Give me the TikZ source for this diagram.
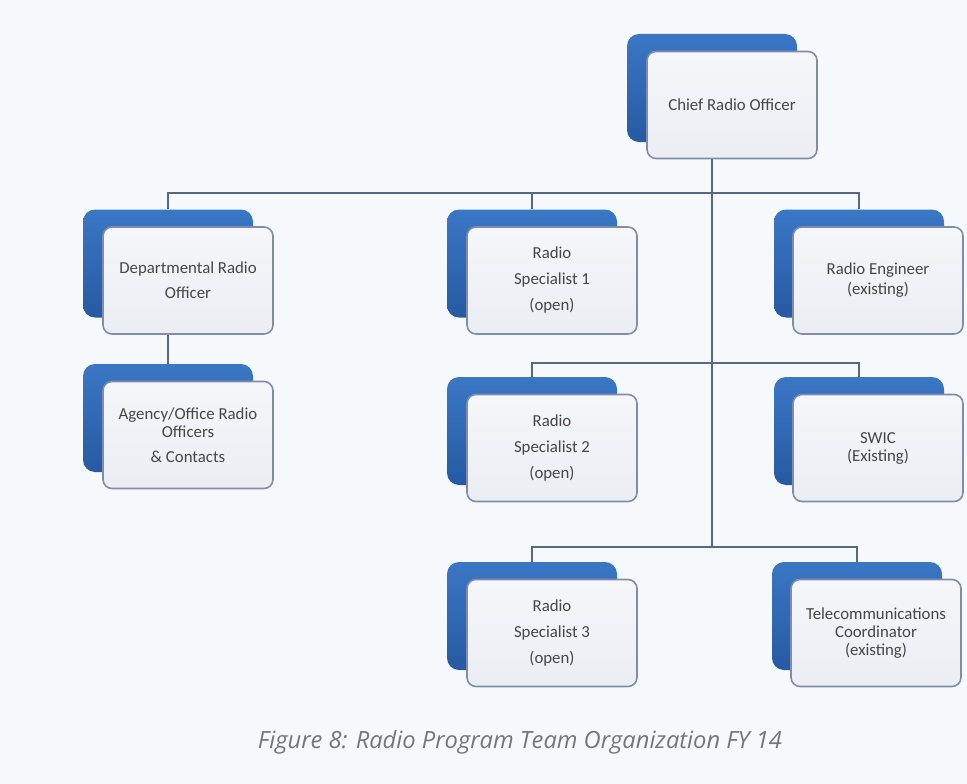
\documentclass[tikz,border=0pt]{standalone}
\usepackage{fontspec}
\setmainfont{Carlito}
\newfontfamily\capfont{Open Sans}
\usetikzlibrary{backgrounds}
\definecolor{pagebg}{RGB}{245,249,252}
\definecolor{boxblue}{RGB}{58,119,196}
\definecolor{boxbluedark}{RGB}{38,90,163}
\definecolor{boxedge}{RGB}{130,140,170}
\definecolor{boxfill}{RGB}{234,238,243}
\definecolor{linkcol}{RGB}{90,102,132}
\definecolor{textcol}{RGB}{70,70,70}
\definecolor{capcol}{RGB}{118,118,118}
\begin{document}
\begin{tikzpicture}[x=1pt, y=-1pt,
    backbox/.style={rectangle, rounded corners=12pt, minimum width=170pt, minimum height=108pt, inner sep=0pt, top color=boxblue, bottom color=boxbluedark},
    frontbox/.style={rectangle, rounded corners=9pt, draw=boxedge, line width=1.6pt, top color=boxfill!50!white, bottom color=boxfill, minimum width=170pt, minimum height=107pt, inner sep=2pt, align=center, text=textcol, font=\fontsize{16.8}{18}\selectfont},
    link/.style={draw=linkcol, line width=2pt}]

        \node[backbox] (chiefB) at (712,88) {};
        \node[frontbox] (chief) at ([shift={(20,17)}]chiefB.center) {Chief Radio Officer};

        \node[backbox] (droB) at (168,263.5) {};
        \node[frontbox] (dro) at ([shift={(20,17)}]droB.center) {Departmental Radio\\[7pt]Officer};
        \node[backbox] (rs1B) at (532,263.5) {};
        \node[frontbox] (rs1) at ([shift={(20,17)}]rs1B.center) {Radio\\[8pt]Specialist 1\\[8pt](open)};
        \node[backbox] (reB) at (859,263.5) {};
        \node[frontbox] (re) at ([shift={(19,17)}]reB.center) {Radio Engineer\\[2pt](existing)};

        \node[backbox] (aroB) at (168,418) {};
        \node[frontbox] (aro) at ([shift={(20,17)}]aroB.center) {Agency/Office Radio\\Officers\\[7pt]\& Contacts};

        \node[backbox] (rs2B) at (532,431) {};
        \node[frontbox] (rs2) at ([shift={(20,17)}]rs2B.center) {Radio\\[8pt]Specialist 2\\[8pt](open)};
        \node[backbox] (swicB) at (859,431) {};
        \node[frontbox] (swic) at ([shift={(19,17)}]swicB.center) {SWIC\\(Existing)};

        \node[backbox] (rs3B) at (532,616) {};
        \node[frontbox] (rs3) at ([shift={(20,17)}]rs3B.center) {Radio\\[8pt]Specialist 3\\[8pt](open)};
        \node[backbox] (tcB) at (857,616) {};
        \node[frontbox] (tc) at ([shift={(19,17)}]tcB.center) {Telecommunications\\Coordinator\\(existing)};

        \node[font=\capfont\itshape\fontsize{23.7}{26}\selectfont, text=capcol] (caption) at (520,742) {Figure 8: Radio Program Team Organization FY 14};

        \coordinate (bus1) at (0,193);
        \coordinate (bus2) at (0,363);
        \coordinate (bus3) at (0,547);

        \begin{scope}[on background layer]
            \fill[pagebg] (0,0) rectangle (967,784);
            \draw[link] (chiefB.south) -- (chiefB.south |- bus3);
            \draw[link] (droB.north) |- (bus1 -| reB.north) -- (reB.north);
            \draw[link] (rs1B.north) -- (rs1B.north |- bus1);
            \draw[link] (droB.south) -- (aroB.north);
            \draw[link] (rs2B.north) |- (bus2 -| swicB.north) -- (swicB.north);
            \draw[link] (rs3B.north) |- (bus3 -| tcB.north) -- (tcB.north);
        \end{scope}

    \end{tikzpicture}
\end{document}
